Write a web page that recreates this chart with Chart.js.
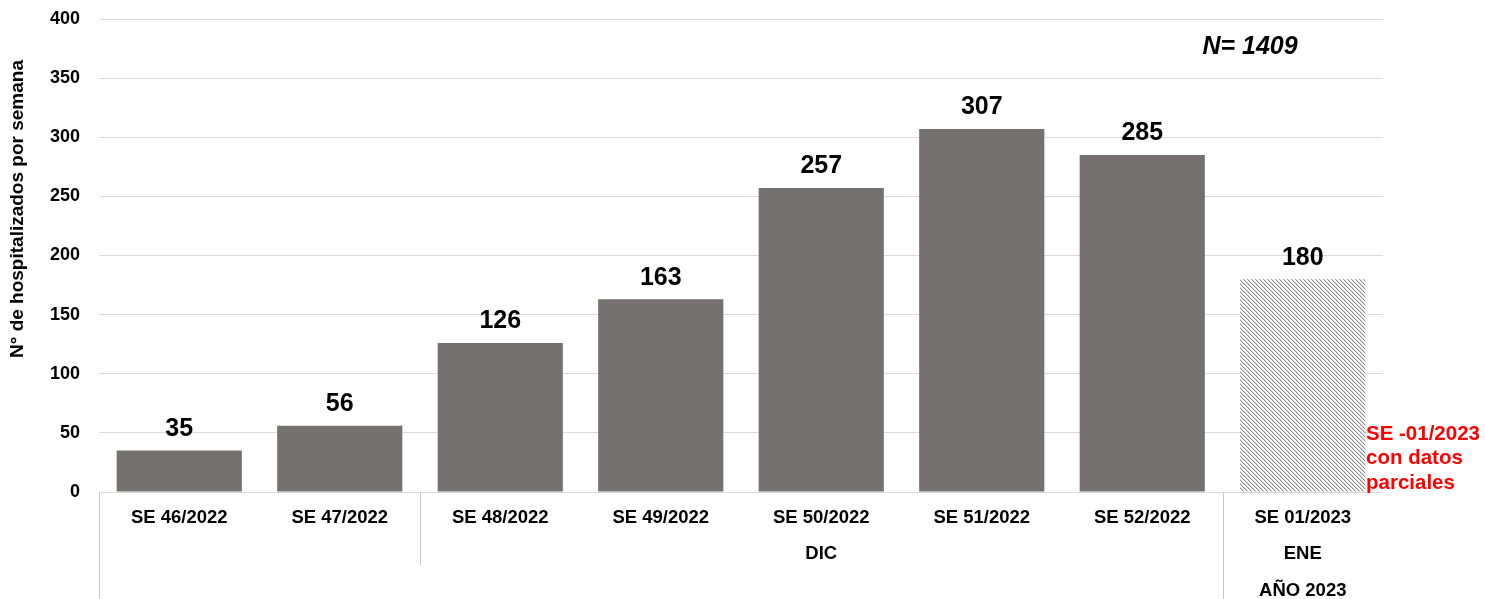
<!DOCTYPE html>
<html>
<head>
<meta charset="utf-8">
<script src="https://cdn.jsdelivr.net/npm/chart.js@4"></script>
<style>
  html, body { margin: 0; padding: 0; background: #fff; }
  #wrap { width: 1485px; height: 599px; }
</style>
</head>
<body>
<div id="wrap"><canvas id="chart"></canvas></div>
<script>
const weeks = ['SE 46/2022', 'SE 47/2022', 'SE 48/2022', 'SE 49/2022', 'SE 50/2022', 'SE 51/2022', 'SE 52/2022', 'SE 01/2023'];
const hospitalized = [35, 56, 126, 163, 257, 307, 285, 180];
const partialWeek = [false, false, false, false, false, false, false, true];
const monthLabels = ['', 'DIC', 'ENE'];
const monthSpans = [[0, 1], [2, 6], [7, 7]];
const yearLabels = ['', 'AÑO 2023'];
const yearSpans = [[0, 6], [7, 7]];
const totalNote = 'N= 1409';
const partialNote = ['SE -01/2023', 'con datos', 'parciales'];

const FONT = 'Arial, "Liberation Sans", sans-serif';

function hatch() {
  let c = document.createElement('canvas');
  c.width = 4; c.height = 4;
  let g = c.getContext('2d');
  g.fillStyle = '#ffffff';
  g.fillRect(0, 0, 4, 4);
  g.fillStyle = '#8a8a8a';
  for (let i = 0; i < 4; i++) g.fillRect(i, i, 1, 1);
  g.fillStyle = '#d6d6d6';
  for (let i = 0; i < 4; i++) g.fillRect((i + 1) % 4, i, 1, 1);
  return g.createPattern(c, 'repeat');
}

const barFill = '#767171';
const pattern = hatch();
const colors = partialWeek.map(p => p ? pattern : barFill);

const decorations = {
  id: 'decorations',
  afterDatasetsDraw(chart) {
    const ctx = chart.ctx;
    const x = chart.scales.x, y = chart.scales.y;
    const area = chart.chartArea;
    const meta = chart.getDatasetMeta(0);
    ctx.save();

    // value labels
    ctx.fillStyle = '#000';
    ctx.font = 'bold 25px ' + FONT;
    ctx.textAlign = 'center';
    ctx.textBaseline = 'bottom';
    meta.data.forEach((bar, i) => {
      ctx.fillText(String(hospitalized[i]), bar.x, bar.y - 9);
    });

    // category boxes under the axis
    const edge = i => {
      if (i < 0) return area.left;
      if (i >= weeks.length - 1) return area.right;
      return (x.getPixelForValue(i) + x.getPixelForValue(i + 1)) / 2;
    };
    ctx.strokeStyle = '#c8c8c8';
    ctx.lineWidth = 1;
    const vline = (px, bottom) => {
      ctx.beginPath();
      ctx.moveTo(Math.round(px) + 0.5, area.bottom);
      ctx.lineTo(Math.round(px) + 0.5, bottom);
      ctx.stroke();
    };
    vline(edge(-1), chart.height);
    vline(edge(1), area.bottom + 73);
    vline(edge(6), chart.height);

    ctx.fillStyle = '#000';
    ctx.font = 'bold 18.5px ' + FONT;
    ctx.textBaseline = 'middle';
    weeks.forEach((w, i) => ctx.fillText(w, x.getPixelForValue(i), area.bottom + 26));
    monthLabels.forEach((m, k) => {
      const [a, b] = monthSpans[k];
      ctx.fillText(m, (edge(a - 1) + edge(b)) / 2, area.bottom + 62);
    });
    yearLabels.forEach((m, k) => {
      const [a, b] = yearSpans[k];
      ctx.fillText(m, (edge(a - 1) + edge(b)) / 2, area.bottom + 99);
    });

    // y axis title
    ctx.save();
    ctx.translate(18, 209);
    ctx.rotate(-Math.PI / 2);
    ctx.font = 'bold 19px ' + FONT;
    ctx.fillText('N° de hospitalizados por semana', 0, 0);
    ctx.restore();

    // notes
    ctx.font = 'italic bold 25px ' + FONT;
    ctx.fillText(totalNote, 1250, y.getPixelForValue(400) + 28);

    ctx.fillStyle = '#ff0000';
    ctx.font = 'bold 20.5px ' + FONT;
    ctx.textAlign = 'left';
    partialNote.forEach((t, i) => ctx.fillText(t, area.right - 17, area.bottom - 58 + i * 24.5));
    ctx.restore();
  }
};

new Chart(document.getElementById('chart'), {
  type: 'bar',
  data: {
    labels: weeks,
    datasets: [{
      data: hospitalized,
      backgroundColor: colors,
      borderWidth: 0,
      barPercentage: 0.78,
      categoryPercentage: 1
    }]
  },
  plugins: [decorations],
  options: {
    responsive: true,
    maintainAspectRatio: false,
    animation: false,
    events: [],
    layout: { padding: { top: 19, right: 102, bottom: 99, left: 0 } },
    plugins: { legend: { display: false }, tooltip: { enabled: false } },
    scales: {
      x: {
        ticks: { display: false },
        grid: { display: false },
        border: { display: false }
      },
      y: {
        min: 0,
        max: 400,
        afterFit(scale) {
          scale.width = 99;
          scale.paddingTop = 0;
          scale.paddingBottom = 0;
        },
        ticks: {
          stepSize: 50,
          color: '#000',
          padding: 19,
          font: { family: FONT, size: 18, weight: 'bold' }
        },
        grid: { color: '#d9d9d9', drawTicks: false },
        border: { display: false }
      }
    }
  }
});
</script>
</body>
</html>
